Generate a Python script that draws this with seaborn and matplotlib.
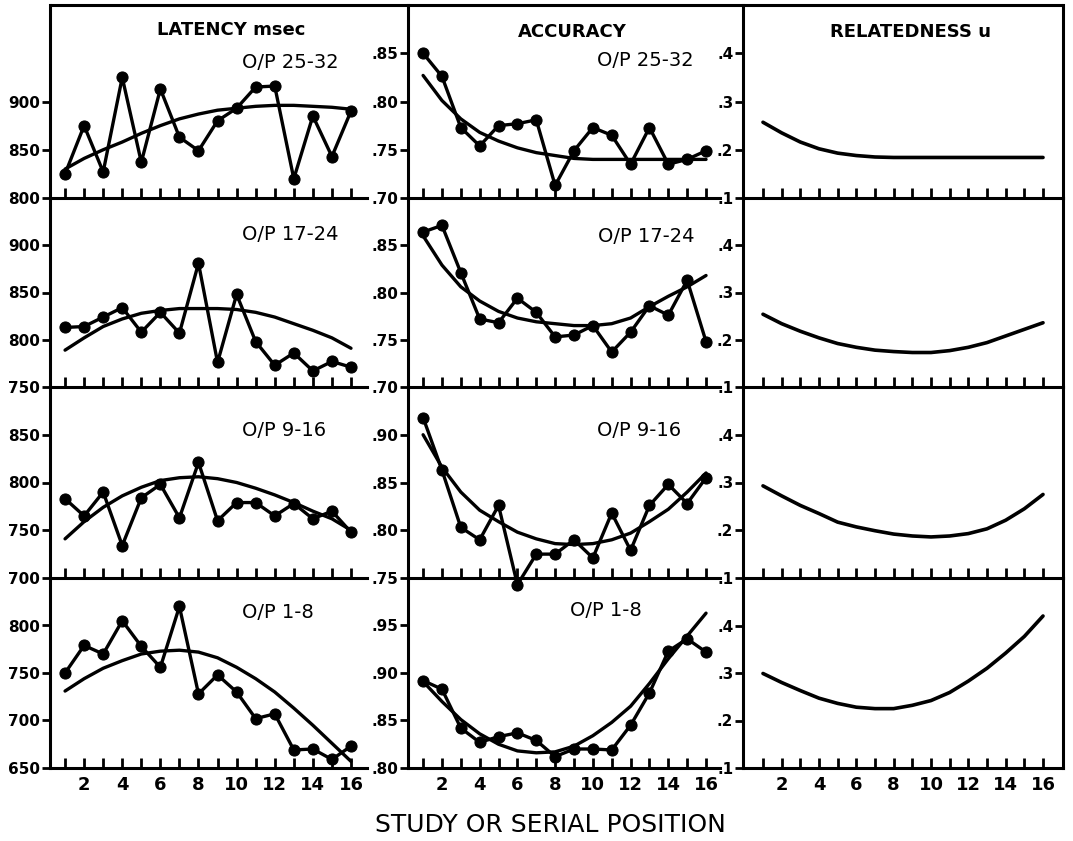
import matplotlib
matplotlib.use("Agg")
import matplotlib.pyplot as plt
import seaborn as sns
from matplotlib.lines import Line2D

sns.set_theme(style="white")
plt.rcParams['font.family'] = ['DejaVu Sans']
plt.rcParams['text.color'] = 'black'
plt.rcParams['xtick.color'] = 'black'
plt.rcParams['ytick.color'] = 'black'

# serial positions
positions = list(range(1, 17))

# latency (msec), observed and fitted, by output position block
lat_25_32 = [825, 875, 827, 925, 837, 913, 863, 849, 880, 893, 915, 916, 820, 885, 843, 890]
lat_25_32_fit = [830, 841, 850, 858, 867, 875, 882, 887, 891, 893, 895, 896, 896, 895, 894, 892]
lat_17_24 = [813, 814, 824, 834, 808, 829, 807, 881, 776, 848, 798, 773, 786, 767, 777, 771]
lat_17_24_fit = [789, 802, 814, 822, 828, 831, 833, 833, 833, 832, 829, 824, 817, 810, 802, 791]
lat_9_16 = [783, 765, 790, 734, 784, 798, 763, 821, 760, 779, 779, 765, 778, 762, 770, 748]
lat_9_16_fit = [741, 759, 774, 786, 795, 802, 805, 806, 804, 800, 794, 787, 779, 770, 762, 750]
lat_1_8 = [750, 779, 770, 805, 778, 756, 820, 728, 748, 730, 702, 707, 669, 670, 659, 673]
lat_1_8_fit = [731, 744, 755, 763, 770, 773, 774, 772, 766, 756, 744, 730, 713, 695, 676, 657]

# accuracy, observed and fitted
acc_25_32 = [.850, .826, .773, .754, .775, .777, .781, .713, .749, .773, .765, .735, .773, .735, .740, .749]
acc_25_32_fit = [.827, .801, .782, .768, .759, .752, .747, .744, .741, .740, .740, .740, .740, .740, .740, .740]
acc_17_24 = [.864, .871, .821, .772, .768, .794, .779, .753, .755, .765, .737, .758, .786, .776, .813, .748]
acc_17_24_fit = [.860, .829, .806, .791, .780, .773, .769, .767, .765, .765, .767, .773, .785, .796, .806, .818]
acc_9_16 = [.918, .863, .803, .790, .826, .743, .775, .775, .790, .771, .818, .779, .826, .848, .828, .855]
acc_9_16_fit = [.900, .866, .840, .821, .809, .798, .791, .786, .785, .786, .790, .797, .809, .822, .840, .860]
acc_1_8 = [.892, .883, .842, .827, .833, .837, .829, .812, .820, .820, .819, .845, .879, .923, .936, .922]
acc_1_8_fit = [.891, .870, .851, .836, .825, .818, .816, .817, .823, .834, .848, .865, .889, .915, .939, .963]

# relatedness u, fitted curves only
rel_25_32_fit = [.257, .235, .216, .202, .193, .188, .185, .184, .184, .184, .184, .184, .184, .184, .184, .184]
rel_17_24_fit = [.254, .234, .218, .204, .192, .184, .178, .175, .173, .173, .177, .184, .194, .208, .222, .236]
rel_9_16_fit = [.293, .272, .252, .235, .217, .207, .199, .192, .188, .186, .188, .193, .203, .221, .245, .275]
rel_1_8_fit = [.299, .280, .263, .247, .236, .228, .225, .225, .232, .242, .259, .283, .310, .342, .377, .420]

block_labels = ["O/P 25-32", "O/P 17-24", "O/P 9-16", "O/P 1-8"]
x_labels = ["" if p % 2 else str(p) for p in positions]

W, H = 1073, 841
fig = plt.figure(figsize=(W / 100, H / 100), dpi=100)

col_px = [(50, 367), (408, 720), (743, 1063)]
row_px = [(5, 198), (198, 387), (387, 578), (578, 768)]
col_xlim = [(0.21, 16.84), (0.2, 16.74), (-0.07, 17.07)]

lat_data = [(lat_25_32, lat_25_32_fit), (lat_17_24, lat_17_24_fit),
            (lat_9_16, lat_9_16_fit), (lat_1_8, lat_1_8_fit)]
acc_data = [(acc_25_32, acc_25_32_fit), (acc_17_24, acc_17_24_fit),
            (acc_9_16, acc_9_16_fit), (acc_1_8, acc_1_8_fit)]
rel_data = [rel_25_32_fit, rel_17_24_fit, rel_9_16_fit, rel_1_8_fit]

lat_ylim = [(800, 1000), (750, 950), (700, 900), (650, 850)]
acc_ylim = [(.70, .90), (.70, .90), (.75, .95), (.80, 1.0)]
rel_ylim = (.1, .5)


def make_ax(r, c):
    x0, x1 = col_px[c]
    y0, y1 = row_px[r]
    ax = fig.add_axes([x0 / W, 1 - y1 / H, (x1 - x0) / W, (y1 - y0) / H])
    ax.set_facecolor("none")
    for s in ["top", "right"]:
        ax.spines[s].set_visible(False)
    if c == 2:
        ax.spines["right"].set_visible(True)
    for s in ax.spines.values():
        s.set_color("black")
        s.set_linewidth(2.2)
    ax.set_xlim(*col_xlim[c])
    ax.set_xticks(positions)
    ax.tick_params(axis="x", direction="in", length=7, width=2, bottom=True, top=False,
                   labelsize=13, pad=6)
    ax.tick_params(axis="y", direction="out", length=6, width=2, left=True, pad=1,
                   labelsize=11)
    if r == 3:
        ax.set_xticklabels(x_labels, fontweight="bold")
    else:
        ax.set_xticklabels([])
    ax.set_xlabel("")
    ax.set_ylabel("")
    return ax


def draw_obs(ax, obs, fit):
    sns.lineplot(x=positions, y=fit, ax=ax, color="black", linewidth=2.4, legend=False,
                 clip_on=False)
    sns.lineplot(x=positions, y=obs, ax=ax, color="black", linewidth=2.4, marker="o",
                 markersize=8, markeredgecolor="black", legend=False, clip_on=False)


for r in range(4):
    # latency
    ax = make_ax(r, 0)
    draw_obs(ax, *lat_data[r])
    lo, hi = lat_ylim[r]
    ax.set_ylim(lo, hi)
    ticks = [lo, lo + 50, lo + 100]
    if r > 0:
        ticks.append(lo + 150)
    ax.set_yticks(ticks)
    ax.set_yticklabels([str(t) for t in ticks], fontweight="bold")

    # accuracy
    ax = make_ax(r, 1)
    draw_obs(ax, *acc_data[r])
    lo, hi = acc_ylim[r]
    ax.set_ylim(lo, hi)
    ticks = [lo + i * .05 for i in range(4)]
    ax.set_yticks(ticks)
    ax.set_yticklabels([f"{t:.2f}"[1:] for t in ticks], fontweight="bold")

    # relatedness
    ax = make_ax(r, 2)
    sns.lineplot(x=positions, y=rel_data[r], ax=ax, color="black", linewidth=2.6, legend=False)
    ax.set_ylim(*rel_ylim)
    ticks = [.1, .2, .3, .4]
    ax.set_yticks(ticks)
    ax.set_yticklabels([f"{t:.1f}"[1:] for t in ticks], fontweight="bold")

# continuous top border
fig.add_artist(Line2D([50 / W, 1063 / W], [1 - 5 / H, 1 - 5 / H], color="black", linewidth=2.2))

# column headings
fig.text(231 / W, 1 - 30 / H, "LATENCY msec", ha="center", va="center", fontsize=13, fontweight="bold")
fig.text(572 / W, 1 - 32 / H, "ACCURACY", ha="center", va="center", fontsize=13, fontweight="bold")
fig.text(911 / W, 1 - 32 / H, "RELATEDNESS u", ha="center", va="center", fontsize=13, fontweight="bold")

# block labels
lat_lab_y = [62, 235, 430, 612]
acc_lab_y = [60, 237, 430, 610]
acc_lab_x = [597, 598, 597, 570]
for r in range(4):
    fig.text(242 / W, 1 - lat_lab_y[r] / H, block_labels[r], ha="left", va="center", fontsize=14)
    fig.text(acc_lab_x[r] / W, 1 - acc_lab_y[r] / H, block_labels[r], ha="left", va="center", fontsize=14)

fig.text(550 / W, 1 - 825 / H, "STUDY OR SERIAL POSITION", ha="center", va="center", fontsize=18)

fig.savefig("out.png", dpi=100, facecolor="white")
